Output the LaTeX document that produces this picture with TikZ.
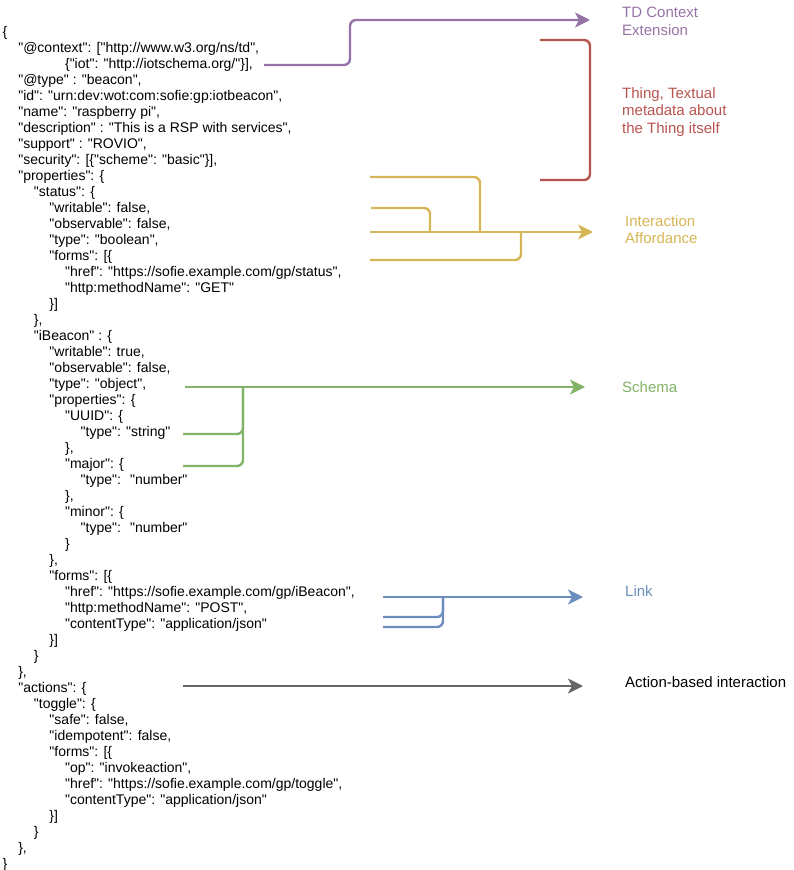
\documentclass[tikz,border=0pt]{standalone}
\usepackage{fontspec}
\setmainfont{Liberation Sans}[Ligatures=TeXOff]
\usetikzlibrary{arrows.meta}

\definecolor{tdlila}{HTML}{9673A6}
\definecolor{thingrot}{HTML}{B85450}
\definecolor{iagelb}{HTML}{D6B656}
\definecolor{schemagruen}{HTML}{82B366}
\definecolor{linkblau}{HTML}{6C8EBF}
\definecolor{aktiongrau}{HTML}{666666}

\newlength\jind
\setlength\jind{15.6pt}

\begin{document}
\begin{tikzpicture}[x=1pt, y=-1pt,
  code/.style={anchor=base west, inner sep=0pt, align=left, font=\fontsize{14}{16}\selectfont},
  lbl/.style={anchor=base west, inner sep=0pt, align=left, font=\fontsize{15}{17.5}\selectfont},
  ast/.style={line width=2.4pt, rounded corners=6pt},
  pfeil/.style={ast, -{Stealth[length=15pt, width=15pt, inset=4pt]}}]
\useasboundingbox (0,0) rectangle (794,870);

% JSON Text (base = letzte Zeile)
\node[code] (json) at (2.5,868.5) {\{\\
\hspace*{1\jind}"@context": ["http://www.w3.org/ns/td",\\
\hspace*{4\jind}\{"iot": "http://iotschema.org/"\}],\\
\hspace*{1\jind}"@type" : "beacon",\\
\hspace*{1\jind}"id": "urn:dev:wot:com:sofie:gp:iotbeacon",\\
\hspace*{1\jind}"name": "raspberry pi",\\
\hspace*{1\jind}"description" : "This is a RSP with services",\\
\hspace*{1\jind}"support" : "ROVIO",\\
\hspace*{1\jind}"security": [\{"scheme": "basic"\}],\\
\hspace*{1\jind}"properties": \{\\
\hspace*{2\jind}"status": \{\\
\hspace*{3\jind}"writable": false,\\
\hspace*{3\jind}"observable": false,\\
\hspace*{3\jind}"type": "boolean",\\
\hspace*{3\jind}"forms": [\{\\
\hspace*{4\jind}"href": "https://sofie.example.com/gp/status",\\
\hspace*{4\jind}"http:methodName": "GET"\\
\hspace*{3\jind}\}]\\
\hspace*{2\jind}\},\\
\hspace*{2\jind}"iBeacon" : \{\\
\hspace*{3\jind}"writable": true,\\
\hspace*{3\jind}"observable": false,\\
\hspace*{3\jind}"type": "object",\\
\hspace*{3\jind}"properties": \{\\
\hspace*{4\jind}"UUID": \{\\
\hspace*{5\jind}"type": "string"\\
\hspace*{4\jind}\},\\
\hspace*{4\jind}"major": \{\\
\hspace*{5\jind}"type":~ "number"\\
\hspace*{4\jind}\},\\
\hspace*{4\jind}"minor": \{\\
\hspace*{5\jind}"type":~ "number"\\
\hspace*{4\jind}\}\\
\hspace*{3\jind}\},\\
\hspace*{3\jind}"forms": [\{\\
\hspace*{4\jind}"href": "https://sofie.example.com/gp/iBeacon",\\
\hspace*{4\jind}"http:methodName": "POST",\\
\hspace*{4\jind}"contentType": "application/json"\\
\hspace*{3\jind}\}]\\
\hspace*{2\jind}\}\\
\hspace*{1\jind}\},\\
\hspace*{1\jind}"actions": \{\\
\hspace*{2\jind}"toggle": \{\\
\hspace*{3\jind}"safe": false,\\
\hspace*{3\jind}"idempotent": false,\\
\hspace*{3\jind}"forms": [\{\\
\hspace*{4\jind}"op": "invokeaction",\\
\hspace*{4\jind}"href": "https://sofie.example.com/gp/toggle",\\
\hspace*{4\jind}"contentType": "application/json"\\
\hspace*{3\jind}\}]\\
\hspace*{2\jind}\}\\
\hspace*{1\jind}\},\\
\}};

% Beschriftungen (base = letzte Zeile)
\node[lbl, text=tdlila] (tdctx) at (622,35) {TD Context\\Extension};
\node[lbl, text=thingrot] (thing) at (622,133) {Thing, Textual\\metadata about\\the Thing itself};
\node[lbl, text=iagelb] (ia) at (625,243.5) {Interaction\\Affordance};
\node[lbl, text=schemagruen] (schema) at (622,392) {Schema};
\node[lbl, text=linkblau] (link) at (625,596) {Link};
\node[lbl] (aktion) at (625,687) {Action-based interaction};

% Anfangspunkte
\coordinate (ctxS) at (264,65);
\coordinate (ctxE) at (590,20);
\coordinate (thS) at (540,40);
\coordinate (thE) at (540,180);
\coordinate (iaS) at (370,232);
\coordinate (schS) at (185,387);
\coordinate (linkS) at (383,597);
\coordinate (aktS) at (183,686);

% TD Context
\draw[pfeil, tdlila] (ctxS) -- ++(86,0) |- (ctxE);

% Thing Klammer
\draw[ast, thingrot] (thS) -| (590,110) |- (thE);

% Interaction Affordance
\draw[pfeil, iagelb, shorten >=32pt] (iaS) -- (iaS -| ia.west);
\draw[ast, iagelb] (370,177) -| (480,232); % status
\draw[ast, iagelb] (371,208) -| (430,232); % writable
\draw[ast, iagelb] (370,260) -| (521,232); % forms

% Schema
\draw[pfeil, schemagruen, shorten >=37pt] (schS) -- (schS -| schema.west);
\draw[ast, schemagruen] (183,434) -| (243,387); % UUID
\draw[ast, schemagruen] (183,466) -| (243,387); % major

% Link
\draw[pfeil, linkblau, shorten >=42pt] (linkS) -- (linkS -| link.west);
\draw[ast, linkblau] (383,617) -| (443,597);
\draw[ast, linkblau] (383,627) -| (443,597);

% Action
\draw[pfeil, aktiongrau, shorten >=42pt] (aktS) -- (aktS -| aktion.west);
\end{tikzpicture}
\end{document}
